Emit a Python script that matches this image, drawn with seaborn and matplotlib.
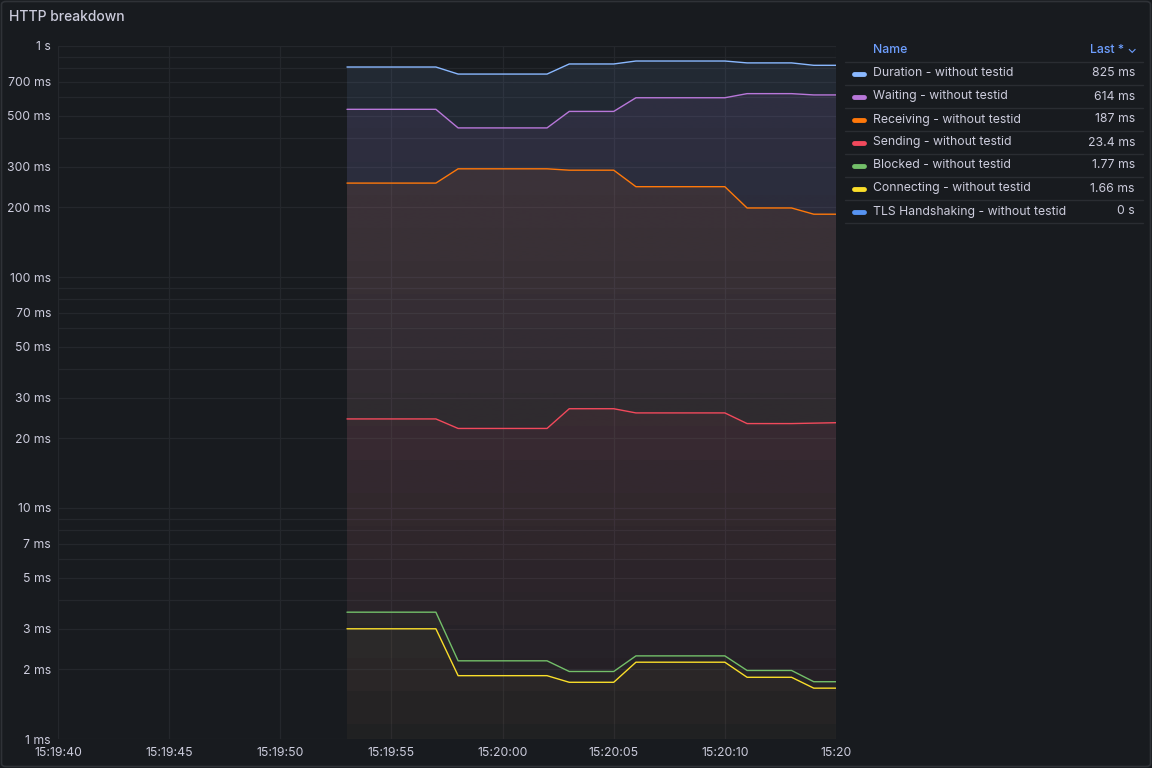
import numpy as np
import pandas as pd
import matplotlib
matplotlib.use("Agg")
import matplotlib.pyplot as plt
import matplotlib.dates as mdates
from matplotlib.ticker import FixedLocator, FixedFormatter, NullFormatter
from matplotlib.patches import FancyBboxPatch
from matplotlib.lines import Line2D
import seaborn as sns

# ---------------- data ----------------
title = "HTTP breakdown"
times = pd.date_range("2024-01-01 15:19:53", "2024-01-01 15:20:15", freq="1s")

series_names = [
    "Duration - without testid",
    "Waiting - without testid",
    "Receiving - without testid",
    "Sending - without testid",
    "Blocked - without testid",
    "Connecting - without testid",
    "TLS Handshaking - without testid",
]
duration = [811, 811, 811, 811, 811, 756, 756, 756, 756, 756, 836, 836, 836,
            861, 861, 861, 861, 861, 845, 845, 845, 825, 825]
waiting = [532, 532, 532, 532, 532, 442, 442, 442, 442, 442, 521, 521, 521,
           597, 597, 597, 597, 597, 622, 622, 622, 614, 614]
receiving = [255, 255, 255, 255, 255, 294, 294, 294, 294, 294, 290, 290, 290,
             246, 246, 246, 246, 246, 199, 199, 199, 187, 187]
sending = [24.3, 24.3, 24.3, 24.3, 24.3, 22.1, 22.1, 22.1, 22.1, 22.1, 26.9, 26.9, 26.9,
           25.8, 25.8, 25.8, 25.8, 25.8, 23.2, 23.2, 23.2, 23.3, 23.4]
blocked = [3.54, 3.54, 3.54, 3.54, 3.54, 2.18, 2.18, 2.18, 2.18, 2.18, 1.96, 1.96, 1.96,
           2.29, 2.29, 2.29, 2.29, 2.29, 1.98, 1.98, 1.98, 1.77, 1.77]
connecting = [3.00, 3.00, 3.00, 3.00, 3.00, 1.88, 1.88, 1.88, 1.88, 1.88, 1.76, 1.76, 1.76,
              2.15, 2.15, 2.15, 2.15, 2.15, 1.85, 1.85, 1.85, 1.66, 1.66]
tls = [0] * 23

series_values = [duration, waiting, receiving, sending, blocked, connecting, tls]
series_colors = ["#8ab8ff", "#b877d9", "#ff780a", "#f2495c", "#73bf69", "#fade2a", "#5794f2"]

y_ticks = [1, 2, 3, 5, 7, 10, 20, 30, 50, 70, 100, 200, 300, 500, 700, 1000]
y_tick_labels = ["1 ms", "2 ms", "3 ms", "5 ms", "7 ms", "10 ms", "20 ms", "30 ms",
                 "50 ms", "70 ms", "100 ms", "200 ms", "300 ms", "500 ms", "700 ms", "1 s"]
x_ticks = pd.to_datetime(["2024-01-01 15:19:40", "2024-01-01 15:19:45", "2024-01-01 15:19:50",
                          "2024-01-01 15:19:55", "2024-01-01 15:20:00", "2024-01-01 15:20:05",
                          "2024-01-01 15:20:10", "2024-01-01 15:20:15"])
x_tick_labels = ["15:19:40", "15:19:45", "15:19:50", "15:19:55", "15:20:00",
                 "15:20:05", "15:20:10", "15:20"]

# ---------------- style ----------------
BG = "#181b1f"
TEXT = "#ccccdc"
GRID = "#24272c"
BLUE_TXT = "#6e9fff"

sns.set_theme(style="dark")
plt.rcParams["font.family"] = ["Inter", "DejaVu Sans"]

W, H = 1152, 768
fig = plt.figure(figsize=(W / 100, H / 100), dpi=100, facecolor=BG)
ax = fig.add_axes([58 / W, 1 - 739 / H, (836 - 58) / W, (739 - 46) / H])
ax.set_facecolor(BG)

frames = []
for name, vals in zip(series_names, series_values):
    frames.append(pd.DataFrame({"time": times, "value": vals, "series": name}))
df = pd.concat(frames, ignore_index=True)
plot_df = df[df["value"] > 0]

ax.set_yscale("log")
xmin, xmax = x_ticks[0], x_ticks[-1]

# gradient fills (opacity gradient, like Grafana)
grad = np.linspace(0, 1, 1024).reshape(-1, 1)
for name, col in zip(series_names, series_colors):
    sub = plot_df[plot_df["series"] == name]
    if sub.empty:
        continue
    poly = ax.fill_between(sub["time"], sub["value"], 1, color="none", linewidth=0)
    rgb = matplotlib.colors.to_rgb(col)
    img = np.zeros((1024, 1, 4))
    img[..., 0], img[..., 1], img[..., 2] = rgb
    img[..., 3] = 0.014 + 0.082 * grad
    im = ax.imshow(img, extent=[0, 1, 0, 1], transform=ax.transAxes, origin="lower",
                   aspect="auto", zorder=1, interpolation="bilinear")
    im.set_clip_path(poly.get_paths()[0], ax.transData)

sns.lineplot(data=plot_df, x="time", y="value", hue="series", hue_order=series_names[:6],
             palette=series_colors[:6], linewidth=1.0, estimator=None, legend=False,
             ax=ax, zorder=3)

ax.set_xlim(xmin, xmax)
ax.set_ylim(1, 1000)

# y ticks and grid
ax.yaxis.set_major_locator(FixedLocator(y_ticks))
ax.yaxis.set_major_formatter(FixedFormatter(y_tick_labels))
minor = [m * 10 ** e for e in range(0, 3) for m in range(1, 10)]
ax.yaxis.set_minor_locator(FixedLocator(minor))
ax.yaxis.set_minor_formatter(NullFormatter())
ax.xaxis.set_major_locator(FixedLocator(mdates.date2num(x_ticks)))
ax.xaxis.set_major_formatter(FixedFormatter(x_tick_labels))

ax.grid(True, which="both", axis="y", color=GRID, linewidth=0.9, zorder=0)
ax.grid(True, which="major", axis="x", color=GRID, linewidth=0.9, zorder=0)
ax.set_axisbelow(True)
ax.tick_params(axis="both", which="both", length=0, colors=TEXT, labelsize=8.8)
ax.tick_params(axis="y", pad=5)
ax.tick_params(axis="x", pad=6)
ax.set_xlabel("")
ax.set_ylabel("")
for s in ax.spines.values():
    s.set_visible(False)

# panel border
fig.patches.append(FancyBboxPatch((1.5 / W, 1.5 / H), 1 - 3 / W, 1 - 3 / H,
                                  boxstyle="round,pad=0,rounding_size=0.004",
                                  transform=fig.transFigure, facecolor="none",
                                  edgecolor="#2f3237", linewidth=1.2))

# title
fig.text(9 / W, 1 - 17 / H, title, color=TEXT, fontsize=10, fontweight="medium",
         va="center", ha="left")

# legend table
def fmt(v):
    if v == 0:
        return "0 s"
    if v >= 1000:
        return f"{v / 1000:.3g} s"
    return f"{v:.3g} ms"

FS = 8.8
lx0, lx1 = 845, 1143
fig.text(873 / W, 1 - 50 / H, "Name", color=BLUE_TXT, fontsize=FS, fontweight="medium",
         va="center", ha="left")
fig.text(1137 / W, 1 - 50 / H, "Last * \u2304", color=BLUE_TXT, fontsize=FS,
         fontweight="medium", va="center", ha="right")
fig.add_artist(Line2D([lx0 / W, lx1 / W], [1 - 61.5 / H, 1 - 61.5 / H], color="#2a2d32",
                      linewidth=1, transform=fig.transFigure))
for i, (name, vals, col) in enumerate(zip(series_names, series_values, series_colors)):
    yc = 73.5 + 23 * i
    fig.add_artist(Line2D([854 / W, 864 / W], [1 - yc / H, 1 - yc / H], color=col,
                          linewidth=3.5, solid_capstyle="round", transform=fig.transFigure))
    fig.text(873 / W, 1 - yc / H, name, color=TEXT, fontsize=FS, va="center", ha="left")
    fig.text(1135 / W, 1 - yc / H, fmt(vals[-1]), color=TEXT, fontsize=FS, va="center",
             ha="right")
    ys = yc + 11.5
    fig.add_artist(Line2D([lx0 / W, lx1 / W], [1 - ys / H, 1 - ys / H], color="#2a2d32",
                          linewidth=1, transform=fig.transFigure))

fig.savefig("out.png", dpi=100, facecolor=BG)
